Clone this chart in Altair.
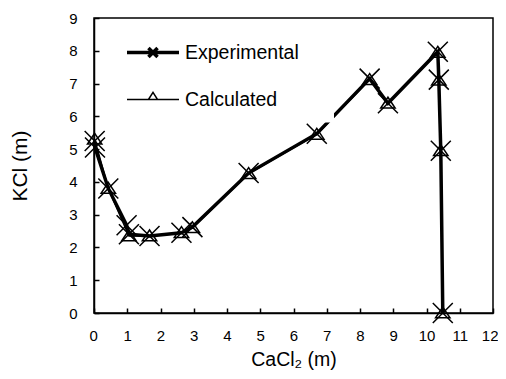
import altair as alt
import pandas as pd

# ---- data ----
series_names = ["Experimental", "Calculated"]

exp_x = [0.02, 0.03, 0.43, 0.98, 1.05, 1.67, 2.63, 2.96, 4.65, 6.70, 8.29, 8.84, 10.34, 10.37, 10.43, 10.49]
exp_y = [5.25, 5.05, 3.80, 2.68, 2.40, 2.35, 2.45, 2.62, 4.27, 5.47, 7.15, 6.40, 7.97, 7.12, 4.95, 0.00]

calc_x = [0.02, 0.43, 1.05, 1.67, 2.63, 2.96, 4.65, 6.70, 8.29, 8.84, 10.34, 10.37, 10.43, 10.49]
calc_y = [5.30, 3.80, 2.35, 2.35, 2.45, 2.60, 4.25, 5.45, 7.12, 6.40, 7.95, 7.10, 4.95, 0.00]

x_ticks = list(range(0, 13))
y_ticks = list(range(0, 10))

exp_df = pd.DataFrame({"x": exp_x, "y": exp_y, "i": range(len(exp_x)), "series": "Experimental"})
calc_df = pd.DataFrame({"x": calc_x, "y": calc_y, "i": range(len(calc_x)), "series": "Calculated"})
legend_df = pd.DataFrame({"series": series_names})

FONT = "Liberation Sans, Arial, sans-serif"
X_PATH = "M-1,-1L1,1M-1,1L1,-1"
TRI_PATH = "M0,-0.75L-0.9,0.6L0.9,0.6Z"
LEG_EXP = "M-2,0H2M-0.35,-0.35L0.35,0.35M-0.35,0.35L0.35,-0.35"
LEG_CALC = "M-2,0H-0.35M0.35,0H2M-0.35,0L0,-0.55L0.35,0Z"

xenc = alt.X("x:Q", scale=alt.Scale(domain=[0, 12], nice=False, zero=True),
             axis=alt.Axis(title="CaCl₂ (m)", values=x_ticks, tickSize={"expr": "-5"},
                           labelPadding=20, titlePadding=7, titleFontSize=19.5,
                           labelFlush=True, labelFlushOffset=5, labelOverlap=False))
yenc = alt.Y("y:Q", scale=alt.Scale(domain=[0, 9], nice=False, zero=True),
             axis=alt.Axis(title="KCl (m)", values=y_ticks, tickSize={"expr": "-5"},
                           labelPadding=22, titlePadding=38, labelFlush=False, labelOverlap=False))

calc_line = alt.Chart(calc_df).mark_line(color="black", strokeWidth=1.5).encode(
    x=xenc, y=yenc, order="i:Q")
exp_line = alt.Chart(exp_df).mark_line(color="black", strokeWidth=3.5).encode(
    x=xenc, y=yenc, order="i:Q")
calc_pts = alt.Chart(calc_df).mark_point(shape=TRI_PATH, size=256, filled=False, color="black",
                                         strokeWidth=1.5, opacity=1).encode(x=xenc, y=yenc)
exp_pts = alt.Chart(exp_df).mark_point(shape=X_PATH, size=400, filled=False, color="black",
                                       strokeWidth=1.5, opacity=1).encode(x=xenc, y=yenc)

leg = alt.Legend(title=None, orient="none", legendX=31, legendY=6.5, padding=13,
                 fillColor="white", symbolSize=676, rowPadding=21, labelOffset=17,
                 labelFont=FONT, labelFontSize=19.5, labelColor="black", labelLimit=300,
                 labelExpr="datum.label + '\u00a0\u00a0\u00a0\u00a0\u200b'")

legend_layer = alt.Chart(legend_df).mark_point(filled=False, color="black", opacity=1).encode(
    shape=alt.Shape("series:N", scale=alt.Scale(domain=series_names, range=[LEG_EXP, LEG_CALC]), legend=leg),
    strokeWidth=alt.StrokeWidth("series:N", scale=alt.Scale(domain=series_names, range=[3.5, 1.5]), legend=leg),
).transform_filter("false")

chart = alt.layer(calc_line, exp_line, calc_pts, exp_pts, legend_layer).properties(
    width=399, height=295,
    autosize=alt.AutoSizeParams(type="none"),
    padding={"left": 86, "top": 10, "right": 5, "bottom": 58},
    background="white",
).configure_view(stroke="black", strokeWidth=1.5).configure_axis(
    grid=False, domainColor="black", domainWidth=1.5, tickColor="black", tickWidth=1.5,
    labelColor="black", labelFont=FONT, labelFontSize=15,
    titleColor="black", titleFont=FONT, titleFontSize=21, titleFontWeight="normal",
)

chart.save("out.html", embed_options={"renderer": "svg", "actions": False})
